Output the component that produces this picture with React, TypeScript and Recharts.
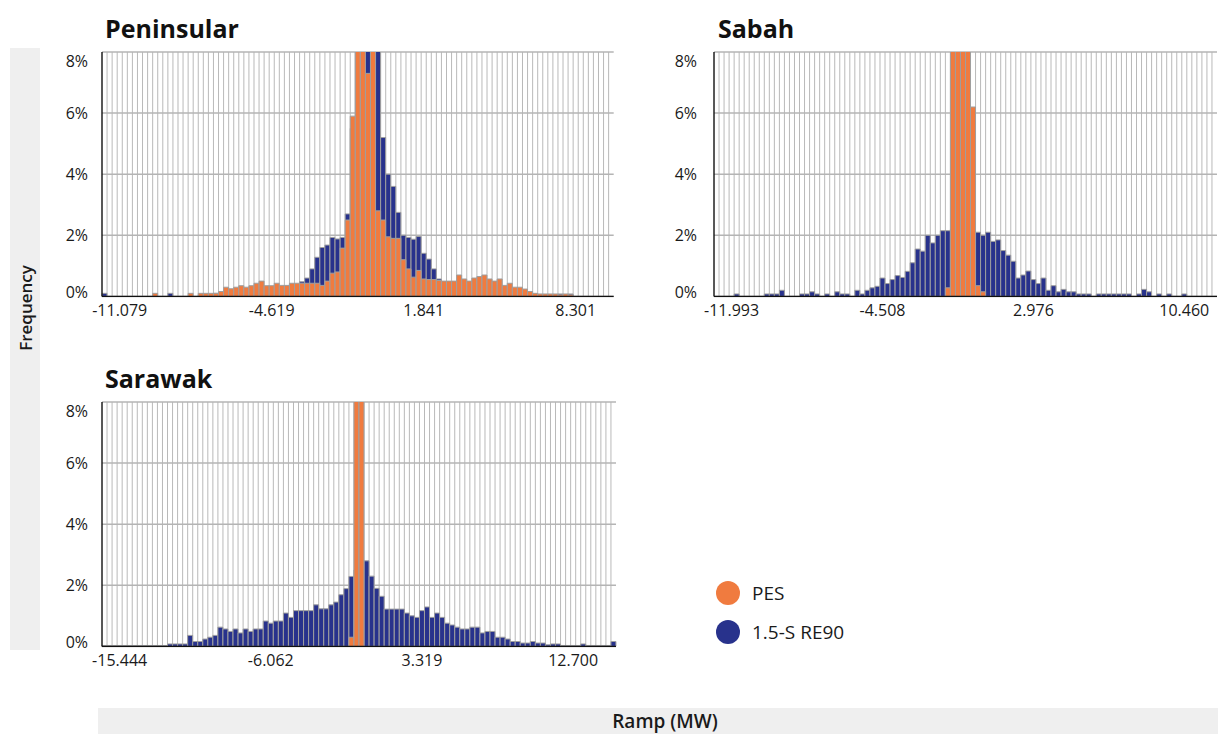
import React from 'react';
import { ComposedChart, Bar, XAxis, YAxis, CartesianGrid, Legend } from 'recharts';

const FONT = "'Open Sans', 'DejaVu Sans', sans-serif";
const ORANGE = '#F07B3F';
const BLUE = '#28328C';
const BAR_EDGE = '#9f9f9f';
const HGRID = '#b4b4b4';
const VGRID = '#b9b9b9';
const TEXT = '#1a1a1a';

const NAME_PES = 'PES';
const NAME_RE90 = '1.5-S RE90';

// y ticks (percent)
const yTicks = [0, 2, 4, 6, 8];
// bins that carry an x tick label
const tickBins = [3, 33, 63, 93];

const penTickLabels = ['-11.079', '-4.619', '1.841', '8.301'];
const sabTickLabels = ['-11.993', '-4.508', '2.976', '10.460'];
const sarTickLabels = ['-15.444', '-6.062', '3.319', '12.700'];

// ---------- Peninsular (101 bins), frequency in % ----------
const penPES = [
  0, 0, 0, 0, 0, 0, 0, 0, 0, 0,
  0.1, 0, 0, 0, 0, 0, 0, 0.1, 0, 0.1,
  0.1, 0.1, 0.1, 0.16, 0.3, 0.25, 0.3, 0.35, 0.3, 0.35,
  0.43, 0.5, 0.35, 0.35, 0.43, 0.36, 0.36, 0.43, 0.43, 0.43,
  0.43, 0.43, 0.43, 0.36, 0.5, 0.76, 0.8, 1.58, 2.5, 5.9,
  12, 12, 7.3, 12, 2.8, 2.5, 1.95, 1.9, 1.9, 1.2,
  0.9, 0.63, 0.85, 0.57, 0.55, 0.55, 0.52, 0.5, 0.5, 0.5,
  0.7, 0.57, 0.5, 0.6, 0.65, 0.7, 0.57, 0.5, 0.57, 0.36,
  0.43, 0.3, 0.3, 0.24, 0.16, 0.1, 0.08, 0.08, 0.08, 0.08,
  0.05, 0.08, 0.05, 0, 0, 0, 0, 0, 0, 0,
  0,
];
const penRE90 = [
  0.1, 0, 0, 0, 0, 0, 0, 0, 0, 0,
  0, 0, 0, 0.1, 0, 0, 0, 0, 0, 0.05,
  0.05, 0.05, 0.1, 0.1, 0.15, 0.15, 0.2, 0.2, 0.2, 0.25,
  0.25, 0.3, 0.3, 0.3, 0.35, 0.3, 0.35, 0.4, 0.4, 0.48,
  0.6, 0.9, 1.28, 1.6, 1.68, 1.93, 1.88, 1.93, 2.7, 5.5,
  12, 12, 12, 12, 12, 5.2, 4.0, 3.6, 2.75, 2.0,
  1.93, 1.87, 1.96, 1.41, 1.22, 0.9, 0.57, 0.45, 0.4, 0.35,
  0.4, 0.35, 0.35, 0.4, 0.4, 0.45, 0.4, 0.35, 0.35, 0.3,
  0.3, 0.25, 0.2, 0.2, 0.15, 0.08, 0.05, 0.05, 0.05, 0.05,
  0.08, 0.05, 0.08, 0, 0, 0, 0, 0, 0, 0,
  0,
];

// ---------- Sabah (100 bins) ----------
const sabPES = [
  0, 0, 0, 0, 0, 0, 0, 0, 0, 0,
  0, 0, 0, 0, 0, 0, 0, 0, 0, 0,
  0, 0, 0, 0, 0, 0, 0, 0, 0, 0,
  0, 0, 0, 0, 0, 0, 0, 0, 0, 0,
  0, 0, 0, 0, 0, 0, 0.28, 12, 12, 12,
  12, 6.2, 0.35, 0.15, 0, 0, 0, 0, 0, 0,
  0, 0, 0, 0, 0, 0, 0, 0, 0, 0,
  0, 0, 0, 0, 0, 0, 0, 0, 0, 0,
  0, 0, 0, 0, 0, 0, 0, 0, 0, 0,
  0, 0, 0, 0, 0, 0, 0, 0, 0, 0,
];
const sabRE90 = [
  0, 0, 0, 0, 0.08, 0, 0, 0, 0, 0,
  0.08, 0.08, 0.08, 0.2, 0, 0, 0, 0.08, 0.08, 0.15,
  0.08, 0, 0.08, 0, 0.15, 0.08, 0.08, 0, 0.2, 0.08,
  0.2, 0.28, 0.33, 0.6, 0.42, 0.55, 0.68, 0.62, 0.82, 1.1,
  1.55, 1.48, 2.0, 1.75, 2.0, 2.15, 2.15, 2.2, 2.3, 2.2,
  2.1, 2.1, 2.1, 2.0, 2.1, 1.8, 1.85, 1.5, 1.35, 1.15,
  0.6, 0.7, 0.83, 0.55, 0.42, 0.6, 0.2, 0.35, 0.15, 0.23,
  0.15, 0.15, 0.08, 0.08, 0.08, 0, 0.08, 0.08, 0.08, 0.08,
  0.08, 0.08, 0.08, 0, 0.08, 0.23, 0.15, 0, 0.08, 0,
  0.08, 0, 0, 0.08, 0, 0, 0, 0, 0, 0,
];

// ---------- Sarawak (102 bins) ----------
const sarPES = [
  0, 0, 0, 0, 0, 0, 0, 0, 0, 0,
  0, 0, 0, 0, 0, 0, 0, 0, 0, 0,
  0, 0, 0, 0, 0, 0, 0, 0, 0, 0,
  0, 0, 0, 0, 0, 0, 0, 0, 0, 0,
  0, 0, 0, 0, 0, 0, 0, 0, 0, 0.3,
  12, 12, 0, 0, 0, 0, 0, 0, 0, 0,
  0, 0, 0, 0, 0, 0, 0, 0, 0, 0,
  0, 0, 0, 0, 0, 0, 0, 0, 0, 0,
  0, 0, 0, 0, 0, 0, 0, 0, 0, 0,
  0, 0, 0, 0, 0, 0, 0, 0, 0, 0,
  0, 0,
];
const sarRE90 = [
  0.03, 0.03, 0.03, 0.03, 0.03, 0.03, 0.03, 0.03, 0.03, 0.03,
  0.03, 0.03, 0.03, 0.08, 0.08, 0.08, 0.08, 0.36, 0.16, 0.16,
  0.24, 0.3, 0.36, 0.63, 0.57, 0.49, 0.57, 0.44, 0.57, 0.49,
  0.57, 0.57, 0.83, 0.76, 0.83, 0.83, 1.09, 0.95, 1.17, 1.17,
  1.17, 1.17, 1.36, 1.23, 1.23, 1.36, 1.45, 1.69, 1.89, 2.29,
  2.5, 2.6, 2.8, 2.3, 1.9, 1.64, 1.22, 1.22, 1.22, 1.22,
  1.09, 1.0, 0.95, 1.17, 1.29, 0.95, 1.09, 0.95, 0.76, 0.7,
  0.63, 0.57, 0.57, 0.63, 0.63, 0.44, 0.49, 0.49, 0.3, 0.3,
  0.24, 0.16, 0.16, 0.11, 0.11, 0.16, 0.11, 0.11, 0.05, 0.08,
  0.08, 0.03, 0.03, 0.03, 0.03, 0.08, 0.03, 0.03, 0.03, 0.03,
  0.03, 0.16,
];

const penBins = penPES.map((_, i) => i);
const sabBins = sabPES.map((_, i) => i);
const sarBins = sarPES.map((_, i) => i);

const Y_AXIS_W = 60;
const TOP_PAD = 4;
const X_AXIS_H = 34;
const RIGHT_PAD = 2;

function YTick(props: any) {
  const { x, y, payload } = props;
  const v = Number(payload.value);
  const shift = v === 8 ? 4 : v === 0 ? -4 : 0;
  return (
    <text x={x} y={y + shift} dy="0.355em" textAnchor="end" fontSize={16} fill={TEXT} fontFamily={FONT}>
      {v}%
    </text>
  );
}

function LegendBox(props: any) {
  const payload: any[] = props.payload || [];
  const order = [NAME_PES, NAME_RE90];
  const items = order
    .map((n) => payload.find((p) => p.value === n))
    .filter(Boolean);
  return (
    <div style={{ fontFamily: FONT }}>
      {items.map((it: any) => (
        <div key={it.value} style={{ display: 'flex', alignItems: 'center', height: 39 }}>
          <svg width={24} height={24} style={{ display: 'block' }}>
            <circle cx={12} cy={12} r={12} fill={it.color} />
          </svg>
          <span style={{ marginLeft: 12, fontSize: 19, color: TEXT, whiteSpace: 'nowrap' }}>{it.value}</span>
        </div>
      ))}
    </div>
  );
}

type PanelProps = {
  bins: number[];
  pes: number[];
  re90: number[];
  tickLabels: string[];
  plotLeft: number;
  plotTop: number;
  plotWidth: number;
  plotHeight: number;
  yLabelGap: number;
  legendAt?: { x: number; y: number };
};

function Panel(p: PanelProps) {
  const rows = p.bins.map((b, i) => ({ bin: b, pes: p.pes[i], re90: p.re90[i] }));
  const n = p.bins.length;
  const left = p.plotLeft - Y_AXIS_W;
  const top = p.plotTop - TOP_PAD;
  const width = Y_AXIS_W + p.plotWidth + RIGHT_PAD;
  const height = TOP_PAD + p.plotHeight + X_AXIS_H;
  const fmt = (v: any) => {
    const k = tickBins.indexOf(Number(v));
    return k >= 0 ? p.tickLabels[k] : '';
  };
  // vertical grid lines at every bin boundary
  const binEdges = (args: any) => {
    const off = args.offset;
    const out: number[] = [];
    for (let k = 1; k < n; k++) out.push(off.left + (k * off.width) / n);
    return out;
  };
  const frame = { stroke: '#111', strokeWidth: 1.4 };
  return (
    <div style={{ position: 'absolute', left, top }}>
      <ComposedChart
        width={width}
        height={height}
        data={rows}
        margin={{ top: TOP_PAD, right: RIGHT_PAD, left: 0, bottom: 0 }}
        barCategoryGap={0}
        barGap={0}
      >
        <CartesianGrid
          xAxisId="b"
          yAxisId="l"
          horizontal={false}
          verticalCoordinatesGenerator={binEdges}
          stroke={VGRID}
          strokeWidth={1}
        />
        <CartesianGrid xAxisId="b" yAxisId="l" vertical={false} stroke={HGRID} strokeWidth={1.5} />
        <Bar
          dataKey="re90"
          name={NAME_RE90}
          xAxisId="b"
          yAxisId="l"
          fill={BLUE}
          stroke={BAR_EDGE}
          strokeWidth={1}
          legendType="circle"
          isAnimationActive={false}
        />
        <Bar
          dataKey="pes"
          name={NAME_PES}
          xAxisId="t"
          yAxisId="r"
          fill={ORANGE}
          stroke={BAR_EDGE}
          strokeWidth={1}
          legendType="circle"
          isAnimationActive={false}
        />
        <XAxis
          xAxisId="b"
          dataKey="bin"
          type="category"
          ticks={tickBins}
          interval={0}
          tickFormatter={fmt}
          height={X_AXIS_H}
          tickSize={0}
          tickMargin={8}
          tickLine={false}
          axisLine={frame}
          tick={{ fontSize: 16, fill: TEXT, fontFamily: FONT }}
        />
        <XAxis
          xAxisId="t"
          dataKey="bin"
          type="category"
          orientation="top"
          height={0}
          tick={false}
          tickLine={false}
          axisLine={frame}
        />
        <YAxis
          yAxisId="l"
          type="number"
          domain={[0, 8]}
          ticks={yTicks}
          allowDataOverflow
          width={Y_AXIS_W}
          tickSize={0}
          tickMargin={p.yLabelGap}
          tickLine={false}
          axisLine={frame}
          tick={(tp: any) => <YTick {...tp} />}
        />
        <YAxis
          yAxisId="r"
          type="number"
          orientation="right"
          domain={[0, 8]}
          ticks={yTicks}
          allowDataOverflow
          width={0}
          tick={false}
          tickLine={false}
          axisLine={frame}
        />
        {p.legendAt ? (
          <Legend
            layout="vertical"
            align="center"
            verticalAlign="middle"
            wrapperStyle={{ left: p.legendAt.x - left, top: p.legendAt.y - top, width: 200 }}
            content={(lp: any) => <LegendBox {...lp} />}
          />
        ) : null}
      </ComposedChart>
    </div>
  );
}

const titleStyle: React.CSSProperties = {
  position: 'absolute',
  fontFamily: FONT,
  fontWeight: 700,
  fontSize: 25,
  lineHeight: '25px',
  color: '#111',
  whiteSpace: 'nowrap',
};

export default function App() {
  return (
    <div
      style={{
        position: 'absolute',
        left: 0,
        top: 0,
        width: 1218,
        height: 734,
        background: '#fff',
        overflow: 'hidden',
        fontFamily: FONT,
      }}
    >
      {/* Frequency band */}
      <div style={{ position: 'absolute', left: 10, top: 48, width: 30, height: 602, background: '#efefef' }}>
        <div
          style={{
            position: 'absolute',
            left: 15,
            top: 260,
            transform: 'translate(-50%, -50%) rotate(-90deg)',
            whiteSpace: 'nowrap',
            fontSize: 17,
            fontWeight: 600,
            color: TEXT,
          }}
        >
          Frequency
        </div>
      </div>
      {/* Ramp band */}
      <div
        style={{
          position: 'absolute',
          left: 98,
          top: 708,
          width: 1120,
          height: 26,
          background: '#efefef',
          display: 'flex',
          alignItems: 'center',
          justifyContent: 'center',
        }}
      >
        <span style={{ fontSize: 19, fontWeight: 600, color: TEXT, marginLeft: 14 }}>Ramp (MW)</span>
      </div>

      <div style={{ ...titleStyle, left: 105, top: 16 }}>Peninsular</div>
      <div style={{ ...titleStyle, left: 718, top: 16 }}>Sabah</div>
      <div style={{ ...titleStyle, left: 105, top: 366 }}>Sarawak</div>

      <Panel
        bins={penBins}
        pes={penPES}
        re90={penRE90}
        tickLabels={penTickLabels}
        plotLeft={102.3}
        plotTop={52.3}
        plotWidth={511.7}
        plotHeight={244.4}
        yLabelGap={14}
      />
      <Panel
        bins={sabBins}
        pes={sabPES}
        re90={sabRE90}
        tickLabels={sabTickLabels}
        plotLeft={714}
        plotTop={52.3}
        plotWidth={503}
        plotHeight={244.4}
        yLabelGap={17}
      />
      <Panel
        bins={sarBins}
        pes={sarPES}
        re90={sarRE90}
        tickLabels={sarTickLabels}
        plotLeft={101.7}
        plotTop={402.3}
        plotWidth={514}
        plotHeight={244.4}
        yLabelGap={14}
        legendAt={{ x: 716, y: 573.5 }}
      />
    </div>
  );
}
